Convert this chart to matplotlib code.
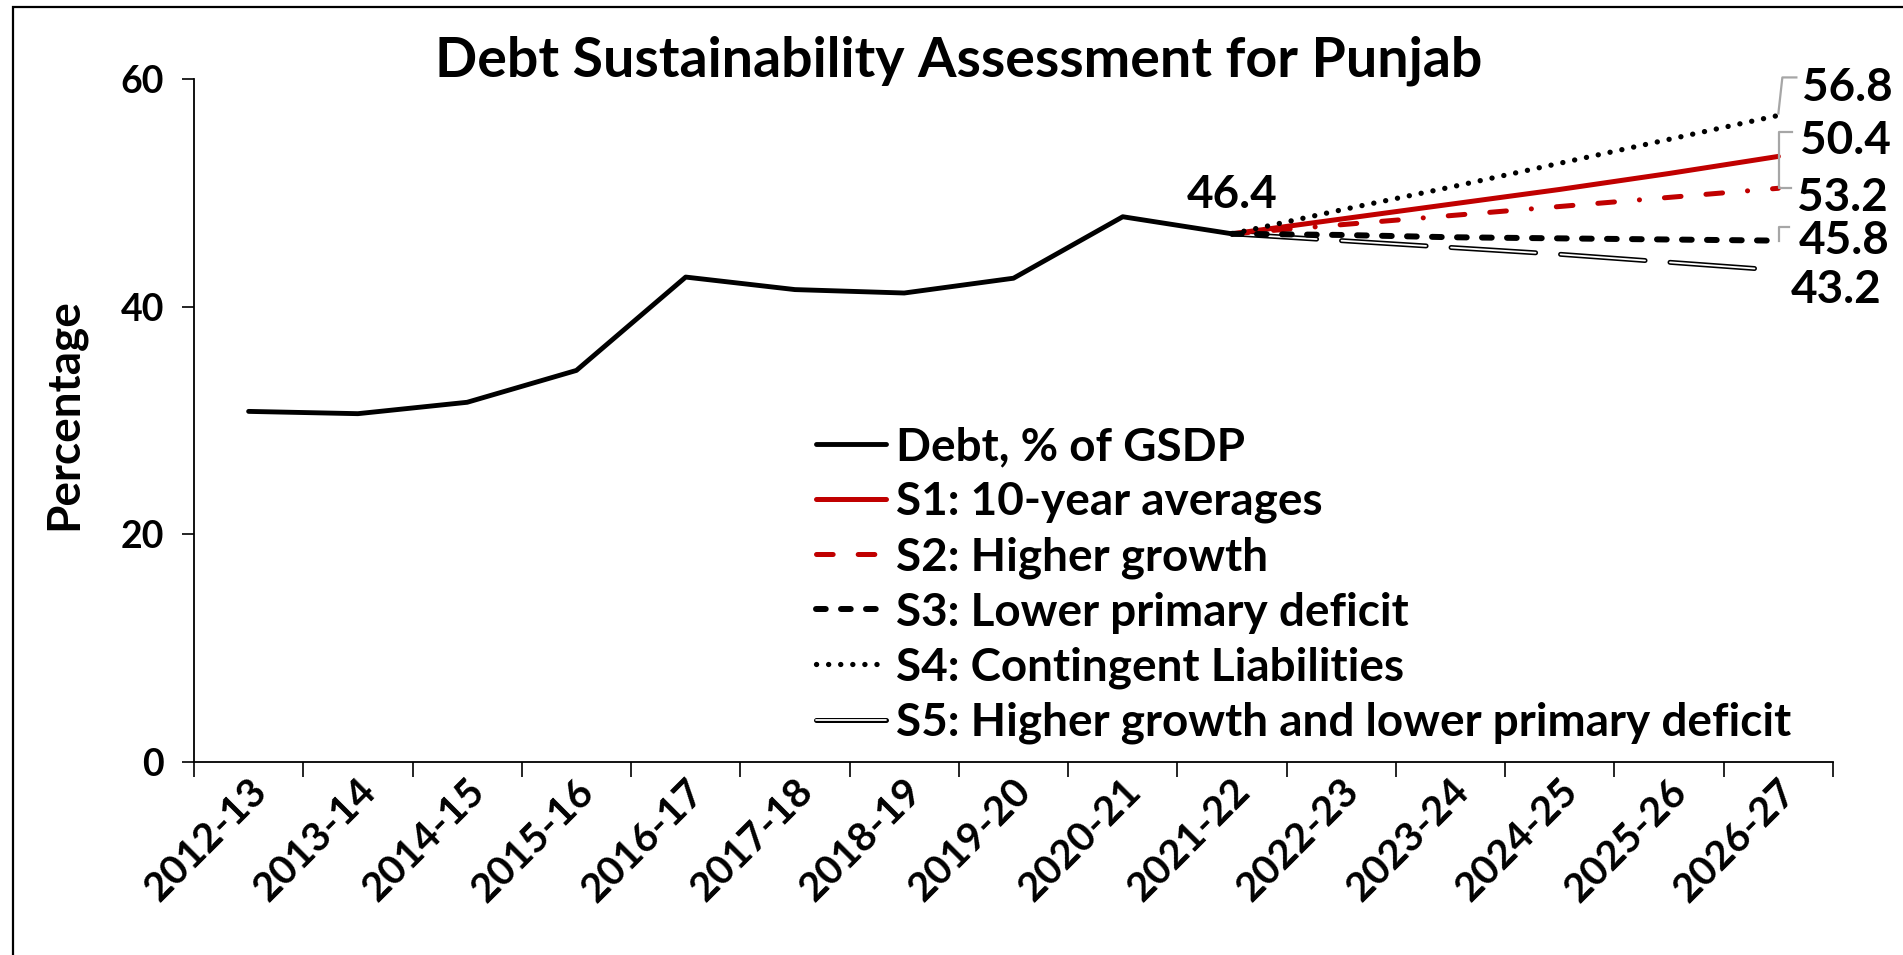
import numpy as np
import matplotlib
matplotlib.use("Agg")
import matplotlib.pyplot as plt
import matplotlib.patheffects as pe
import matplotlib.transforms as mtrans
from matplotlib.patches import Rectangle

years = ["2012-13", "2013-14", "2014-15", "2015-16", "2016-17", "2017-18", "2018-19",
         "2019-20", "2020-21", "2021-22", "2022-23", "2023-24", "2024-25", "2025-26", "2026-27"]
debt = [30.8, 30.6, 31.6, 34.4, 42.6, 41.5, 41.2, 42.5, 47.9, 46.4]
s1 = [46.4, 47.7, 49.0, 50.3, 51.7, 53.2]
s2 = [46.4, 47.2, 48.0, 48.8, 49.6, 50.4]
s3 = [46.4, 46.3, 46.1, 46.0, 45.9, 45.8]
s4 = [46.4, 48.5, 50.5, 52.6, 54.7, 56.8]
s5 = [46.4, 45.8, 45.2, 44.6, 43.9, 43.2]

RED = "#C00000"
GREY = "#A6A6A6"

plt.rcParams["font.family"] = "Lato"
plt.rcParams["font.weight"] = "bold"
plt.rcParams["lines.scale_dashes"] = False

W, H = 1903, 955
fig = plt.figure(figsize=(W / 100, H / 100), dpi=100)
ax = fig.add_axes([194 / W, 1 - 762 / H, (1833 - 194) / W, (762 - 79) / H])

x_all = np.arange(len(years))
xd = x_all[:len(debt)]
xp = x_all[9:]

ax.plot(xd, debt, color="black", lw=3.5, solid_capstyle="round", solid_joinstyle="round",
        label="Debt, % of GSDP", zorder=5)
ax.plot(xp, s1, color=RED, lw=3.6, solid_capstyle="round", label="S1: 10-year averages", zorder=4)
l2, = ax.plot(xp, s2, color=RED, lw=3.6, dash_capstyle="round", label="S2: Higher growth", zorder=4)
l2.set_dashes((12, 18, 12, 18, 0.1, 18))
l3, = ax.plot(xp, s3, color="black", lw=4.3, dash_capstyle="round", label="S3: Lower primary deficit", zorder=4)
l3.set_dashes((7, 11))
l4, = ax.plot(xp, s4, color="black", lw=3.8, dash_capstyle="round", label="S4: Contingent Liabilities", zorder=4)
l4.set_dashes((0.1, 8.6))
l5, = ax.plot(xp, s5, color="white", lw=1.3, dash_capstyle="round",
              label="S5: Higher growth and lower primary deficit", zorder=3,
              path_effects=[pe.Stroke(linewidth=3.6, foreground="black"), pe.Normal()])
l5.set_dashes((61, 18))

ax.set_xlim(-0.5, len(years) - 0.5)
ax.set_ylim(0, 60)
ax.set_yticks([0, 20, 40, 60])
ax.set_xticks(np.arange(-0.5, len(years)), [""] * (len(years) + 1))
ax.set_xticks(x_all, years, minor=True)
ax.tick_params(axis="x", which="major", direction="out", length=11, width=1.2)
ax.tick_params(axis="x", which="minor", length=0, pad=17, labelsize=29)
ax.tick_params(axis="y", direction="out", length=8.6, width=1.2, pad=13, labelsize=27)
shift = mtrans.ScaledTranslation(12 / 100, 0, fig.dpi_scale_trans)
for lab in ax.get_xticklabels(minor=True):
    lab.set_rotation(45)
    lab.set_ha("right")
    lab.set_va("center")
    lab.set_rotation_mode("anchor")
    lab.set_transform(lab.get_transform() + shift)
for s in ["top", "right"]:
    ax.spines[s].set_visible(False)
for s in ["left", "bottom"]:
    ax.spines[s].set_linewidth(1.3)

fig.text(959 / W, 1 - 61 / H, "Debt Sustainability Assessment for Punjab",
         ha="center", va="center", fontsize=40)
fig.text(64 / W, 1 - 414 / H, "Percentage", rotation=90, ha="center", va="center", fontsize=33)

ax.legend(loc="upper left", bbox_to_anchor=(816 / W, 1 - 426 / H),
          bbox_transform=fig.transFigure, frameon=False, fontsize=33,
          handlelength=1.53, handletextpad=0.22, labelspacing=0.28,
          borderpad=0, borderaxespad=0)

# data labels
ax.annotate("46.4", (xd[-1], debt[-1]), xytext=(0, 39), textcoords="offset pixels",
            ha="center", va="center", fontsize=33)


def leader(x, y, offsets):
    px, py = ax.transData.transform((x, y))
    pts = [fig.transFigure.inverted().transform((px + dx, py + dy)) for dx, dy in offsets]
    xs, ys = zip(*pts)
    fig.add_artist(plt.Line2D(xs, ys, color=GREY, lw=1.6, transform=fig.transFigure))


end = xp[-1]
ax.annotate(f"{s4[-1]:.1f}", (end, s4[-1]), xytext=(69, 27), textcoords="offset pixels",
            ha="center", va="center", fontsize=33)
leader(end, s4[-1], [(0, 2), (4, 38), (18, 38)])
ax.annotate(f"{s2[-1]:.1f}", (end, s2[-1]), xytext=(67, 47), textcoords="offset pixels",
            ha="center", va="center", fontsize=33)
leader(end, s2[-1], [(13, 0), (1, 0), (1, 56), (14, 56)])
ax.annotate(f"{s1[-1]:.1f}", (end, s1[-1]), xytext=(64, -42), textcoords="offset pixels",
            ha="center", va="center", fontsize=33)
ax.annotate(f"{s3[-1]:.1f}", (end, s3[-1]), xytext=(66, 0), textcoords="offset pixels",
            ha="center", va="center", fontsize=33)
leader(end, s3[-1], [(1, 0), (1, 14), (11, 14)])
ax.annotate(f"{s5[-1]:.1f}", (end, s5[-1]), xytext=(58, -20), textcoords="offset pixels",
            ha="center", va="center", fontsize=33)

# outer chart border
fig.add_artist(Rectangle((13 / W, -0.1), 1.2, 1 - 7 / H + 0.1, transform=fig.transFigure,
                         fill=False, edgecolor="black", lw=1.6))

fig.savefig("out.png", dpi=100)
